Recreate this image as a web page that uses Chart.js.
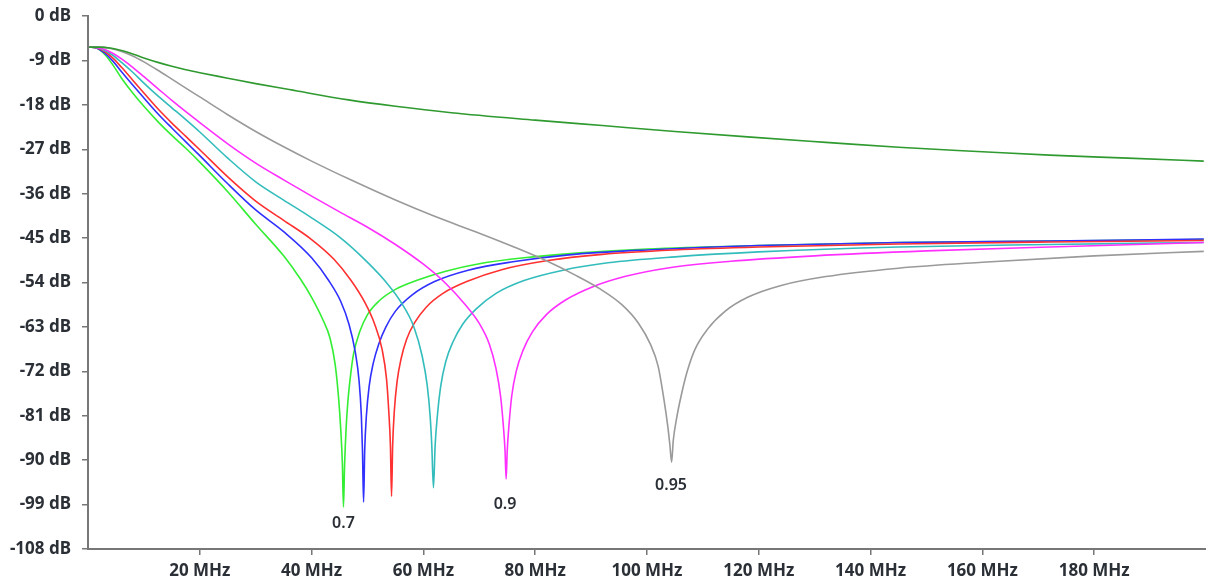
<!DOCTYPE html>
<html>
<head>
<meta charset="utf-8">
<script src="https://cdn.jsdelivr.net/npm/chart.js@4.4.1/dist/chart.umd.min.js"></script>
<style>
  html, body { margin: 0; padding: 0; background: #fff; }
  #wrap { width: 1206px; height: 586px; position: relative; }
</style>
</head>
<body>
<div id="wrap"><canvas id="chart"></canvas></div>
<script>
// frequency (MHz) / attenuation (dB), one pair of arrays per curve
const greenMHz = [0.2, 1.5, 3, 4.5, 6, 8, 10, 12.5, 15, 17.5, 20, 25, 30, 35, 38, 40, 42, 43.3, 44.2, 44.8, 45.2, 45.5, 45.7, 45.9, 46.2, 46.5, 47.0, 47.5, 48.6, 50.0, 52.0, 55.0, 59.0, 64.0, 70.0, 78.0, 88.0, 100.0, 120.0, 145.0, 172.0, 199.6];
const greenDb  = [-6.3, -6.5, -7.8, -10.0, -12.6, -15.6, -18.3, -21.4, -24.2, -26.8, -29.6, -35.6, -42.2, -48.6, -53.3, -57.0, -61.5, -65.3, -70.5, -77.0, -83.5, -90.5, -99.5, -91.0, -83.0, -78.0, -72.5, -68.5, -64.0, -60.5, -57.8, -55.4, -53.5, -51.7, -50.2, -49.0, -48.0, -47.2, -46.5, -45.9, -45.6, -45.3];

const blueMHz = [0.2, 1.5, 3, 4.5, 6, 8, 10, 12.5, 15, 17.5, 20, 25, 30, 35, 40, 43, 45.2, 46.7, 47.8, 48.5, 48.9, 49.1, 49.3, 49.5, 49.8, 50.3, 51.0, 52.0, 53.3, 55.0, 58.0, 62.0, 68.0, 76.0, 86.0, 100.0, 120.0, 145.0, 172.0, 199.6];
const blueDb  = [-6.3, -6.5, -7.5, -9.2, -11.3, -14.0, -16.6, -19.8, -22.7, -25.5, -28.3, -34.0, -39.3, -43.7, -49.0, -53.5, -57.8, -62.5, -68.0, -74.0, -81.0, -88.0, -98.5, -88.0, -81.0, -75.0, -70.5, -66.5, -63.0, -59.8, -56.5, -53.8, -51.5, -49.8, -48.4, -47.4, -46.5, -45.9, -45.6, -45.2];

const redMHz = [0.2, 1.5, 3, 4.5, 6, 8, 10, 12.5, 15, 17.5, 20, 25, 30, 35, 40, 44, 47, 49.5, 51.3, 52.6, 53.4, 53.8, 54.1, 54.3, 54.5, 54.8, 55.3, 56.0, 57.0, 58.4, 60.5, 63.5, 68.0, 74.0, 82.0, 92.0, 105.0, 120.0, 145.0, 172.0, 199.6];
const redDb  = [-6.3, -6.45, -7.2, -8.6, -10.4, -13.0, -15.6, -18.8, -21.7, -24.4, -27.1, -32.6, -37.5, -41.4, -45.3, -49.3, -53.5, -58.0, -62.5, -67.5, -73.5, -80.0, -87.0, -97.3, -87.0, -80.0, -74.0, -69.5, -65.5, -62.2, -59.0, -56.2, -53.7, -51.4, -49.6, -48.3, -47.4, -46.8, -46.2, -45.8, -45.5];

const cyanMHz = [0.2, 1.5, 3, 4.5, 6, 8, 10, 12.5, 15, 17.5, 20, 25, 30, 35, 40, 45, 49, 53, 56, 58.3, 59.8, 60.7, 61.2, 61.5, 61.8, 62.1, 62.5, 63.1, 64.0, 65.3, 67.0, 69.5, 73.0, 78.0, 85.0, 93.0, 105.0, 120.0, 145.0, 172.0, 199.6];
const cyanDb  = [-6.3, -6.4, -7.0, -8.0, -9.4, -11.4, -13.6, -16.2, -18.6, -21.0, -23.5, -28.8, -33.6, -37.3, -40.9, -44.8, -48.8, -53.5, -58.0, -63.0, -69.0, -75.0, -81.0, -87.0, -95.6, -87.0, -81.0, -75.0, -70.0, -66.0, -62.5, -59.3, -56.2, -53.6, -51.5, -50.0, -48.8, -47.8, -46.8, -46.3, -45.9];

const magentaMHz = [0.2, 1.5, 3, 4.5, 6, 8, 10, 12.5, 15, 17.5, 20, 25, 30, 35, 40, 45, 50, 55, 60, 64, 67.5, 70, 71.8, 73.0, 73.8, 74.3, 74.6, 74.8, 75.0, 75.3, 75.8, 76.6, 77.8, 79.5, 82.0, 85.5, 90.0, 96.0, 104.0, 115.0, 130.0, 150.0, 172.0, 199.6];
const magentaDb  = [-6.3, -6.35, -6.8, -7.6, -8.7, -10.4, -12.3, -14.7, -17.1, -19.4, -21.6, -25.9, -29.8, -33.2, -36.5, -39.7, -42.8, -46.3, -50.3, -54.2, -58.5, -62.3, -66.5, -71.5, -77.0, -83.0, -88.0, -93.8, -88.0, -83.0, -77.0, -72.0, -67.8, -64.0, -60.5, -57.5, -55.0, -52.8, -51.0, -49.7, -48.6, -47.6, -46.8, -45.9];

const grayMHz = [0.2, 2, 4, 6, 8, 10, 12.5, 15, 17.5, 20, 25, 30, 35, 40, 47, 55, 62, 70, 76, 82, 87, 91.6, 95.5, 98.5, 100.6, 102.0, 103.0, 103.7, 104.1, 104.4, 104.7, 105.3, 106.2, 107.2, 108.6, 110.8, 114.0, 118.0, 124.0, 132.0, 145.0, 160.0, 180.0, 199.6];
const grayDb  = [-6.3, -6.3, -6.6, -7.2, -8.1, -9.3, -11.0, -12.8, -14.6, -16.4, -20.0, -23.4, -26.5, -29.4, -33.2, -37.3, -40.6, -44.0, -46.7, -49.6, -52.4, -55.3, -58.5, -62.3, -66.5, -71.0, -77.5, -83.0, -87.0, -90.4, -86.0, -81.5, -76.5, -72.0, -67.5, -63.5, -59.8, -57.0, -54.6, -52.8, -51.1, -49.9, -48.6, -47.7];

const darkGreenMHz = [0.2, 2, 4, 6, 8, 10, 12.5, 15, 17.5, 20, 25, 30, 36, 46.6, 55, 65, 80, 92, 105, 118, 132, 145, 160, 172, 186, 199.6];
const darkGreenDb  = [-6.3, -6.3, -6.5, -7.0, -7.7, -8.5, -9.4, -10.2, -10.9, -11.5, -12.6, -13.7, -14.9, -17.0, -18.3, -19.6, -21.1, -22.2, -23.4, -24.5, -25.6, -26.6, -27.5, -28.2, -28.8, -29.4];

// notch annotations
const noteText = ['0.7', '0.9', '0.95'];
const noteMHz  = [45.7, 74.6, 104.3];
const noteDb   = [-102.9, -98.9, -95.2];

const xTicks = [20, 40, 60, 80, 100, 120, 140, 160, 180];

const FONT = '"Noto Sans", "DejaVu Sans", sans-serif';
const TEXT = '#2b2f36';

function pairs(xs, ys) {
  return xs.map((x, i) => ({ x: x, y: ys[i] }));
}

function line(xs, ys, color) {
  return {
    data: pairs(xs, ys),
    borderColor: color,
    borderWidth: 1.6,
    pointRadius: 0,
    fill: false,
    cubicInterpolationMode: 'monotone'
  };
}

const notesPlugin = {
  id: 'notes',
  afterDatasetsDraw(chart) {
    const ctx = chart.ctx;
    const xs = chart.scales.x;
    const ys = chart.scales.y;
    ctx.save();
    ctx.font = '600 16px ' + FONT;
    ctx.fillStyle = TEXT;
    ctx.textAlign = 'center';
    ctx.textBaseline = 'middle';
    noteText.forEach((t, i) => {
      ctx.fillText(t, xs.getPixelForValue(noteMHz[i]), ys.getPixelForValue(noteDb[i]));
    });
    ctx.restore();
  }
};

new Chart(document.getElementById('chart'), {
  type: 'line',
  data: {
    datasets: [
      line(darkGreenMHz, darkGreenDb, '#2f9a2f'),
      line(grayMHz, grayDb, '#9a9a9a'),
      line(magentaMHz, magentaDb, '#ff30ff'),
      line(cyanMHz, cyanDb, '#33bcbc'),
      line(redMHz, redDb, '#ff3030'),
      line(blueMHz, blueDb, '#3030ff'),
      line(greenMHz, greenDb, '#33ee33')
    ]
  },
  plugins: [notesPlugin],
  options: {
    responsive: true,
    maintainAspectRatio: false,
    animation: false,
    layout: { padding: { top: 16, right: 0, left: 0, bottom: 0 } },
    plugins: {
      legend: { display: false },
      tooltip: { enabled: false }
    },
    scales: {
      x: {
        type: 'linear',
        min: 0,
        max: 200,
        afterBuildTicks(scale) {
          scale.ticks = xTicks.map(v => ({ value: v }));
        },
        afterFit(scale) {
          scale.height = 37;
          scale.paddingLeft = 0;
          scale.paddingRight = 0;
        },
        ticks: {
          callback: v => v + ' MHz',
          font: { family: FONT, size: 17, weight: 'bold' },
          color: TEXT,
          padding: 6,
          maxRotation: 0
        },
        grid: { display: true, drawOnChartArea: false, drawTicks: true, tickLength: 6, color: '#777', lineWidth: 1.5 },
        border: { display: true, color: '#777', width: 2 }
      },
      y: {
        type: 'linear',
        min: -108,
        max: 0,
        afterFit(scale) {
          scale.width = 88;
          scale.paddingTop = 0;
          scale.paddingBottom = 0;
        },
        ticks: {
          stepSize: 9,
          callback: v => v + ' dB',
          font: { family: FONT, size: 17, weight: 'bold' },
          color: TEXT,
          padding: 11
        },
        grid: { display: true, drawOnChartArea: false, drawTicks: true, tickLength: 6, color: '#777', lineWidth: 1.5 },
        border: { display: true, color: '#777', width: 2 }
      }
    }
  }
});
</script>
</body>
</html>
